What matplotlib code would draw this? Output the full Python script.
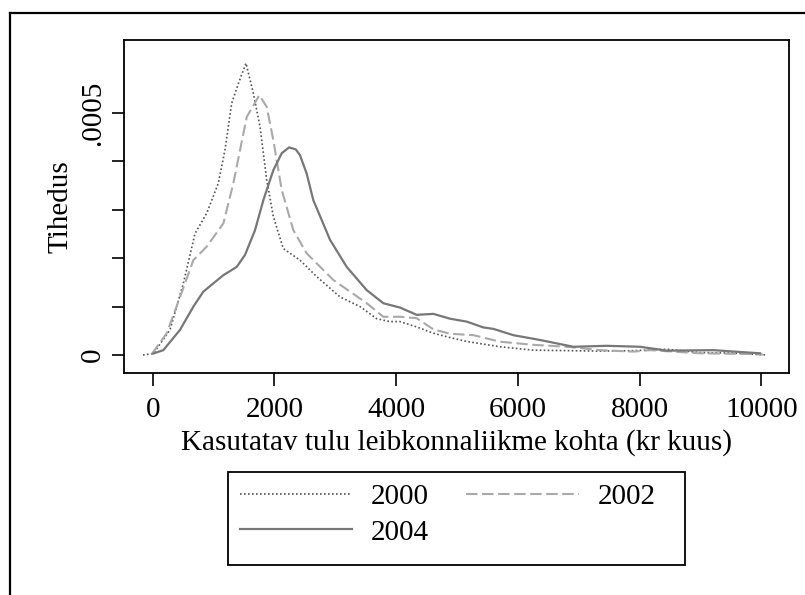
import numpy as np
import matplotlib
matplotlib.use("Agg")
import matplotlib.pyplot as plt
from matplotlib.lines import Line2D
from matplotlib.patches import Rectangle

plt.rcParams["font.family"] = ["Liberation Serif", "DejaVu Serif"]

# density values are in units of 1e-5
SCALE = 1e-5

inc_2000 = [-160, 10, 284, 394, 503, 695, 887, 1078, 1188, 1297, 1407, 1533,
            1653, 1763, 1873, 1982, 2146, 2420, 2695, 3078, 3407, 3681, 3900,
            4064, 4338, 4612, 4886, 5160, 5707, 6255, 6803, 7351, 7898, 8446,
            8994, 9540, 10090]
dens_2000 = [0, 0.3, 5.2, 10.0, 14.8, 25.1, 29.3, 35.5, 42.4, 52.0, 56.1, 60.3,
             54.1, 47.2, 36.2, 28.6, 22.0, 19.6, 16.2, 12.0, 10.0, 7.5, 6.9,
             6.9, 5.8, 4.5, 3.6, 2.8, 1.7, 1.0, 0.9, 0.8, 0.9, 1.2,
             0.5, 0.4, 0.0]

inc_2002 = [-16, 230, 449, 668, 887, 1161, 1325, 1545, 1752, 1873, 1982, 2120,
            2311, 2530, 2968, 3517, 3790, 4064, 4338, 4612, 4886, 5269, 5707,
            6255, 6803, 7351, 7898, 8172, 8994, 9816, 10030]
dens_2002 = [0.2, 4.5, 12.0, 19.6, 22.4, 27.2, 35.5, 49.2, 53.7, 51.3, 44.4, 34.1,
             25.8, 21.0, 15.5, 10.7, 7.9, 7.9, 7.6, 5.3, 4.4, 4.1, 2.75,
             2.1, 1.7, 1.0, 0.7, 1.0, 0.35, 0.2, 0.1]

inc_2004 = [10, 174, 449, 668, 832, 1161, 1380, 1517, 1681, 1818, 1982, 2120,
            2240, 2350, 2420, 2530, 2639, 2914, 3188, 3517, 3790, 4064, 4338,
            4612, 4886, 5160, 5433, 5597, 5926, 6365, 6912, 7461, 8008, 8446,
            9213, 9980]
dens_2004 = [0.3, 1.0, 5.2, 10.0, 13.1, 16.5, 18.2, 20.7, 25.8, 32.0, 38.2, 41.7,
             42.9, 42.5, 41.3, 37.5, 32.0, 23.8, 18.2, 13.4, 10.7, 9.8, 8.3,
             8.5, 7.5, 6.9, 5.7, 5.4, 4.1, 3.1, 1.7, 1.9, 1.7, 0.9,
             1.0, 0.35]

years = ["2000", "2002", "2004"]
x_ticks = [0, 2000, 4000, 6000, 8000, 10000]
y_ticks = [0, 0.0001, 0.0002, 0.0003, 0.0004, 0.0005]
y_labels = {0: "0", 5: ".0005"}

W, H = 805, 595
fig = plt.figure(figsize=(W / 100, H / 100), dpi=100)
ax = fig.add_axes([124 / W, 1 - 373 / H, (789 - 124) / W, (373 - 40) / H])

ax.plot(inc_2000, np.array(dens_2000) * SCALE, color="#555555", lw=1.2,
        linestyle=(0, (1, 1.4)), label=years[0])
ax.plot(inc_2002, np.array(dens_2002) * SCALE, color="#a9a9a9", lw=1.5,
        linestyle=(0, (5.5, 2.2)), label=years[1])
ax.plot(inc_2004, np.array(dens_2004) * SCALE, color="#777777", lw=1.6,
        linestyle="-", label=years[2])

ax.set_xlim(-472, 10456)
ax.set_ylim(-0.0000372, 0.000651)
ax.set_xticks(x_ticks)
ax.set_xticklabels([str(v) for v in x_ticks])
ax.set_yticks(y_ticks)
ax.set_yticklabels([y_labels.get(i, "") for i in range(len(y_ticks))],
                   rotation=90, va="center")

for s in ax.spines.values():
    s.set_linewidth(1.3)
ax.tick_params(axis="both", length=9, width=1.2, labelsize=21, direction="out")
ax.tick_params(axis="x", pad=8)
ax.tick_params(axis="y", pad=4)

ax.set_xlabel("Kasutatav tulu leibkonnaliikme kohta (kr kuus)", fontsize=21)
ax.set_ylabel("Tihedus", fontsize=21)
ax.xaxis.set_label_coords(0.5, -0.168)
ax.yaxis.set_label_coords(-0.076, 0.5)

# legend filled row by row: 2000, 2002 / 2004 (frame drawn separately)
handles, labels = ax.get_legend_handles_labels()
order = [0, 2, 1]
leg = fig.legend([handles[i] for i in order], [labels[i] for i in order],
                 ncol=2, loc="upper left", bbox_to_anchor=(240 / W, 1 - 484 / H),
                 frameon=False, fontsize=21, borderpad=0, borderaxespad=0,
                 handlelength=3.85, handletextpad=0.64, columnspacing=1.28,
                 labelspacing=0.3)
fig.add_artist(Rectangle((228 / W, 1 - 565 / H), (685 - 228) / W, (565 - 471.7) / H,
                         transform=fig.transFigure, fill=False, lw=1.3,
                         edgecolor="black"))

# outer frame (cut by image edge)
fig.add_artist(Line2D([10 / W, 10 / W], [0, 1 - 13 / H], transform=fig.transFigure,
                      color="black", lw=1.6))
fig.add_artist(Line2D([10 / W, 1], [1 - 13 / H, 1 - 13 / H], transform=fig.transFigure,
                      color="black", lw=1.6))

fig.savefig("out.png", dpi=100)
